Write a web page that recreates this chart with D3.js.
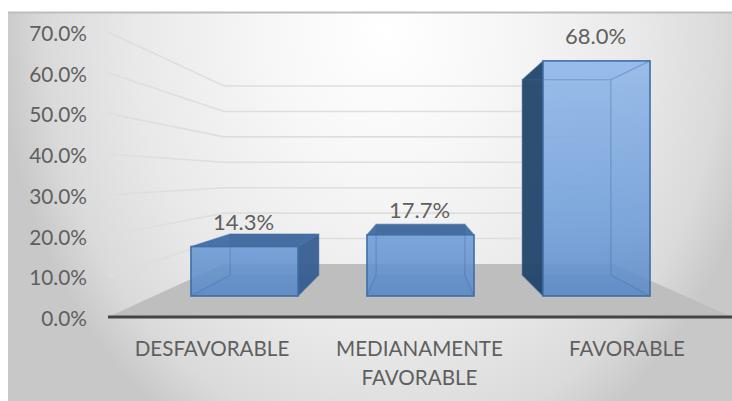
<!DOCTYPE html>
<html>
<head>
<meta charset="utf-8">
<script src="https://cdn.jsdelivr.net/npm/d3@7/dist/d3.min.js"></script>
<style>
  html, body { margin: 0; padding: 0; background: #fff; }
  svg { display: block; }
  text { font-family: Lato, "Open Sans", sans-serif; fill: #5f5f5f; }
</style>
</head>
<body>
<svg id="chart" width="732" height="401"></svg>
<script>
const categories = [["DESFAVORABLE"], ["MEDIANAMENTE", "FAVORABLE"], ["FAVORABLE"]];
const values = [14.3, 17.7, 68.0];
const ticks = [0, 10, 20, 30, 40, 50, 60, 70];

const svg = d3.select("#chart");
const indices = d3.range(values.length);

// Perspective planes: each depth has its own pair of value and position scales.
const yAxisFront = d3.scaleLinear().domain([0, 70]).range([317, 32]);
const yWall = d3.scaleLinear().domain([0, 70]).range([264, 86]);
const yBarFront = d3.scaleLinear().domain([0, 70]).range([296, 54]);
const yBarBack = d3.scaleLinear().domain([0, 70]).range([275, 74]);
const xLabels = d3.scalePoint().domain(indices).range([212, 627]);
const xBarFront = d3.scaleBand().domain(indices).range([156.5, 684.5]).paddingInner(0.392).paddingOuter(0.196);
const xBarBack = d3.scaleBand().domain(indices).range([201.5, 639.5]).paddingInner(0.392).paddingOuter(0.196);

const defs = svg.append("defs");
const bg = defs.append("radialGradient").attr("id", "panelFill")
  .attr("gradientUnits", "userSpaceOnUse")
  .attr("cx", 0).attr("cy", 0).attr("r", 1)
  .attr("gradientTransform", "translate(385,30) scale(385,470)");
[[0, "#ffffff"], [0.3, "#f7f7f7"], [0.65, "#e9e9e9"], [0.88, "#dadada"], [1, "#c8c8c8"]]
  .forEach(([o, c]) => bg.append("stop").attr("offset", o).attr("stop-color", c));

const frontGrad = defs.append("linearGradient").attr("id", "frontFill")
  .attr("gradientUnits", "userSpaceOnUse").attr("x1", 0).attr("y1", 60).attr("x2", 0).attr("y2", 296);
[[0, "#91b9ec"], [0.75, "#6c9cd8"], [1, "#5a8ac8"]]
  .forEach(([o, c]) => frontGrad.append("stop").attr("offset", o).attr("stop-color", c).attr("stop-opacity", 0.82));

// Chart area
svg.append("rect").attr("x", 8).attr("y", 12).attr("width", 724).attr("height", 389).attr("fill", "url(#panelFill)");
svg.append("line").attr("x1", 8).attr("x2", 732).attr("y1", 12.5).attr("y2", 12.5)
  .attr("stroke", "#bdbdbd").attr("stroke-width", 2);

// Floor of the 3D box
const floorLeft = 108, floorRight = 732, wallLeft = 224, wallRight = 613;
svg.append("path")
  .attr("d", d3.line()([[floorLeft, yAxisFront(0)], [wallLeft, yWall(0)], [wallRight, yWall(0)], [floorRight, yAxisFront(0)]]))
  .attr("fill", "#bebebe");

// Gridlines run along the side wall, then across the back wall
const grid = d3.line();
svg.append("g").selectAll("path").data(ticks.filter(t => t > 0)).join("path")
  .attr("d", t => grid([[floorLeft, yAxisFront(t)], [wallLeft, yWall(t)], [wallRight, yWall(t)]]))
  .attr("fill", "none").attr("stroke", "#dedede").attr("stroke-width", 1.6);

// Value axis labels
svg.append("g").selectAll("text").data(ticks).join("text")
  .attr("x", 87).attr("y", t => yAxisFront(t) + 9).attr("text-anchor", "end")
  .attr("font-size", 20.8).text(t => d3.format(".1f")(t) + "%");

// Bars: every face is derived from the front and back planes
const bars = svg.append("g").selectAll("g").data(indices).join("g");
bars.each(function(i) {
  const g = d3.select(this), v = values[i];
  const fl = xBarFront(i), fr = fl + xBarFront.bandwidth();
  const bl = xBarBack(i), br = bl + xBarBack.bandwidth();
  const ft = yBarFront(v), fb = yBarFront(0), bt = yBarBack(v), bb = yBarBack(0);
  const face = (pts, fill) => g.append("path").attr("d", d3.line()(pts) + "Z").attr("fill", fill);
  const edge = "#3f6fa6";
  const leftOut = bl < fl, rightOut = br > fr;
  // floor of the bar and back face
  face([[fl, fb], [fr, fb], [br, bb], [bl, bb]], "rgba(70,115,175,0.45)");
  face([[bl, bt], [br, bt], [br, bb], [bl, bb]], "rgba(95,140,200,0.3)");
  // top face reads dark from above, light from below
  face([[fl, ft], [fr, ft], [br, bt], [bl, bt]], ft > bt ? "rgba(64,104,156,0.95)" : "rgba(130,175,232,0.5)");
  // side faces are dark only where they stick out past the front
  face([[bl, bt], [fl, ft], [fl, fb], [bl, bb]], leftOut ? "rgba(33,66,104,0.92)" : "rgba(80,125,185,0.25)");
  face([[br, bt], [fr, ft], [fr, fb], [br, bb]], rightOut ? "rgba(52,92,143,0.92)" : "rgba(80,125,185,0.25)");
  // front face
  face([[fl, ft], [fr, ft], [fr, fb], [fl, fb]], "url(#frontFill)");
  // inner edges of the box seen through the glass
  g.append("path").attr("d", d3.line()([[fl, fb], [bl, bb], [bl, bt], [br, bt], [br, bb], [fr, fb]]) + `M${bl},${bt}L${fl},${ft}M${br},${bt}L${fr},${ft}`)
    .attr("fill", "none").attr("stroke", edge).attr("stroke-opacity", 0.4).attr("stroke-width", 1.2);
  // outer edges
  g.append("rect").attr("x", fl).attr("y", ft).attr("width", fr - fl).attr("height", fb - ft)
    .attr("fill", "none").attr("stroke", edge).attr("stroke-width", 1.6);
});

// Category axis baseline
svg.append("line").attr("x1", floorLeft).attr("x2", floorRight).attr("y1", yAxisFront(0)).attr("y2", yAxisFront(0))
  .attr("stroke", "#444444").attr("stroke-width", 3.2);

// Category labels, one tspan per wrapped line
const catText = svg.append("g").selectAll("text").data(indices).join("text")
  .attr("text-anchor", "middle").attr("font-size", 20.6);
catText.selectAll("tspan").data(i => categories[i].map(line => ({ i, line }))).join("tspan")
  .attr("x", d => xLabels(d.i)).attr("y", (d, k) => 356 + k * 29).text(d => d.line);

// Value labels above the bars
svg.append("g").selectAll("text").data(indices).join("text")
  .attr("x", i => xBarFront(i) + xBarFront.bandwidth() / 2 - 1)
  .attr("y", i => yBarFront(values[i]) - 17).attr("text-anchor", "middle")
  .attr("font-size", 22).text(i => d3.format(".1f")(values[i]) + "%");
</script>
</body>
</html>
